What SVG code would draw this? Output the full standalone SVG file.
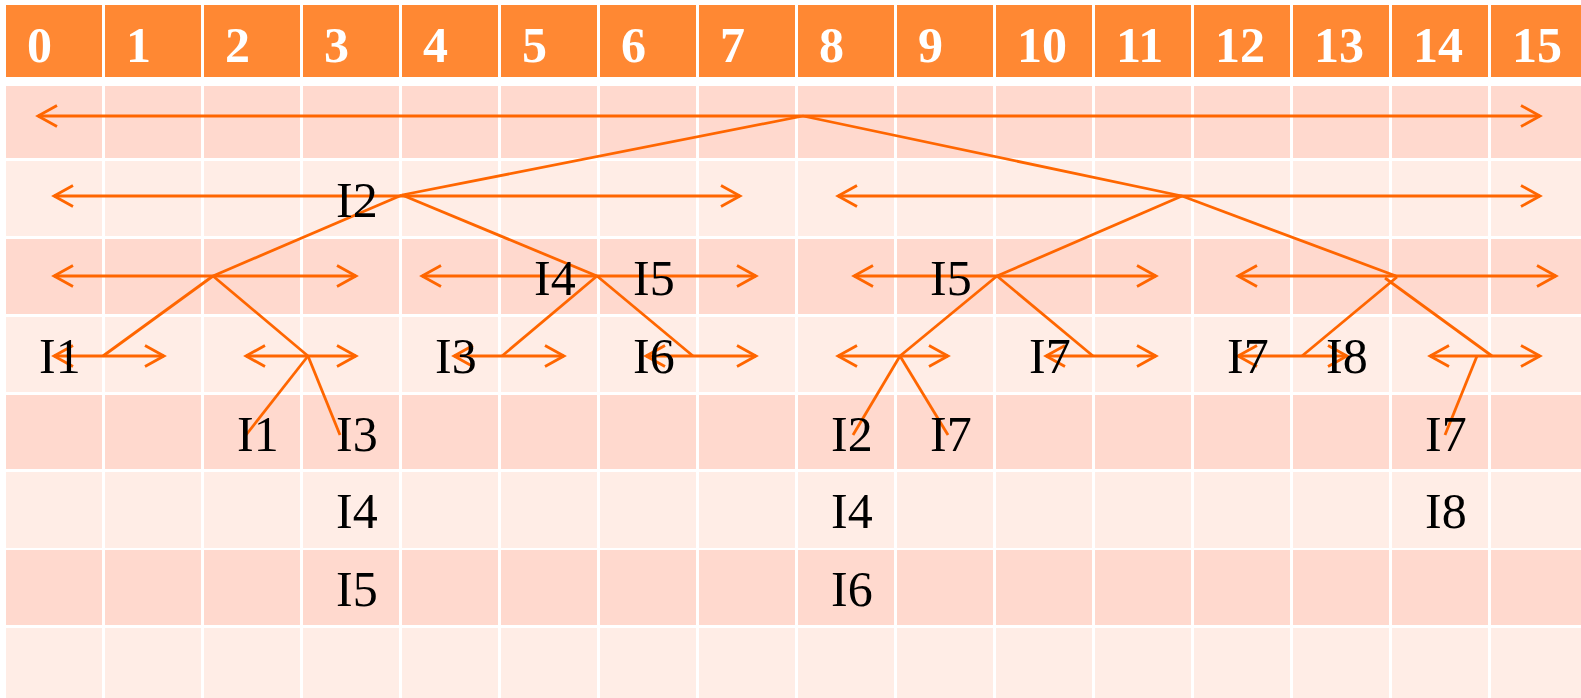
<svg xmlns="http://www.w3.org/2000/svg" width="1581" height="698" viewBox="0 0 1581 698">
<style>
.hd{fill:#FF8833}
.dk{fill:#FFD9CE}
.lt{fill:#FFEDE6}
.sep{stroke:#FFFFFF;stroke-width:3}
.hn{font-family:"Liberation Serif",serif;font-weight:bold;font-size:50px;fill:#FFFFFF}
.lb{font-family:"Liberation Serif",serif;font-size:50px;fill:#000000}
.ar{stroke:#FF6600;stroke-width:2.8;fill:none;marker-start:url(#ah);marker-end:url(#ah)}
.ln{stroke:#FF6600;stroke-width:2.8;fill:none}
</style>
<defs>
<marker id="ah" markerUnits="userSpaceOnUse" markerWidth="30" markerHeight="30" viewBox="-25 -15 30 30" refX="0" refY="0" orient="auto-start-reverse">
<path d="M-19,-10.5 L0,0 L-19,10.5" fill="none" stroke="#FF6600" stroke-width="2.8"/>
</marker>
</defs>
<rect width="1581" height="698" fill="#FFFFFF"/>
<g id="grid">
<rect class="hd" x="6" y="5" width="1575" height="72"/>
<rect class="dk" x="6" y="86" width="1575" height="72"/>
<rect class="lt" x="6" y="161" width="1575" height="75"/>
<rect class="dk" x="6" y="239" width="1575" height="75"/>
<rect class="lt" x="6" y="317" width="1575" height="75"/>
<rect class="dk" x="6" y="395" width="1575" height="74"/>
<rect class="lt" x="6" y="472" width="1575" height="76"/>
<rect class="dk" x="6" y="550" width="1575" height="75"/>
<rect class="lt" x="6" y="628" width="1575" height="70"/>
<g class="sep">
<line x1="103.5" y1="0" x2="103.5" y2="698"/>
<line x1="202.5" y1="0" x2="202.5" y2="698"/>
<line x1="301.5" y1="0" x2="301.5" y2="698"/>
<line x1="400.5" y1="0" x2="400.5" y2="698"/>
<line x1="499.5" y1="0" x2="499.5" y2="698"/>
<line x1="598.5" y1="0" x2="598.5" y2="698"/>
<line x1="697.5" y1="0" x2="697.5" y2="698"/>
<line x1="796.5" y1="0" x2="796.5" y2="698"/>
<line x1="895.5" y1="0" x2="895.5" y2="698"/>
<line x1="994.5" y1="0" x2="994.5" y2="698"/>
<line x1="1093.5" y1="0" x2="1093.5" y2="698"/>
<line x1="1192.5" y1="0" x2="1192.5" y2="698"/>
<line x1="1291.5" y1="0" x2="1291.5" y2="698"/>
<line x1="1390.5" y1="0" x2="1390.5" y2="698"/>
<line x1="1489.5" y1="0" x2="1489.5" y2="698"/>
</g>
</g>
<g id="header">
<text class="hn" x="27" y="62">0</text>
<text class="hn" x="126" y="62">1</text>
<text class="hn" x="225" y="62">2</text>
<text class="hn" x="324" y="62">3</text>
<text class="hn" x="423" y="62">4</text>
<text class="hn" x="522" y="62">5</text>
<text class="hn" x="621" y="62">6</text>
<text class="hn" x="720" y="62">7</text>
<text class="hn" x="819" y="62">8</text>
<text class="hn" x="918" y="62">9</text>
<text class="hn" x="1017" y="62">10</text>
<text class="hn" x="1116" y="62">11</text>
<text class="hn" x="1215" y="62">12</text>
<text class="hn" x="1314" y="62">13</text>
<text class="hn" x="1413" y="62">14</text>
<text class="hn" x="1512" y="62">15</text>
</g>
<g id="connectors">
<line class="ar" x1="38" y1="116" x2="1540" y2="116"/>
<line class="ln" x1="803" y1="116" x2="402" y2="195"/>
<line class="ln" x1="803" y1="116" x2="1182" y2="196"/>
<line class="ar" x1="54" y1="196" x2="740" y2="196"/>
<line class="ar" x1="838" y1="196" x2="1540" y2="196"/>
<line class="ln" x1="402" y1="195" x2="213" y2="276"/>
<line class="ln" x1="402" y1="195" x2="597" y2="276"/>
<line class="ln" x1="1182" y1="196" x2="997" y2="276"/>
<line class="ln" x1="1182" y1="196" x2="1396" y2="276"/>
<line class="ar" x1="54" y1="276" x2="356" y2="276"/>
<line class="ar" x1="422" y1="276" x2="756" y2="276"/>
<line class="ar" x1="854" y1="276" x2="1156" y2="276"/>
<line class="ar" x1="1238" y1="276" x2="1556" y2="276"/>
<line class="ln" x1="213" y1="276" x2="103" y2="356"/>
<line class="ln" x1="213" y1="276" x2="308" y2="356"/>
<line class="ln" x1="597" y1="276" x2="502" y2="356"/>
<line class="ln" x1="597" y1="276" x2="693" y2="356"/>
<line class="ln" x1="997" y1="276" x2="900" y2="356"/>
<line class="ln" x1="997" y1="276" x2="1093" y2="356"/>
<line class="ln" x1="1397" y1="277" x2="1302" y2="356"/>
<line class="ln" x1="1385" y1="278" x2="1492" y2="356"/>
<line class="ar" x1="54" y1="356" x2="164" y2="356"/>
<line class="ar" x1="246" y1="356" x2="356" y2="356"/>
<line class="ar" x1="454" y1="356" x2="564" y2="356"/>
<line class="ar" x1="646" y1="356" x2="756" y2="356"/>
<line class="ar" x1="838" y1="356" x2="948" y2="356"/>
<line class="ar" x1="1046" y1="356" x2="1156" y2="356"/>
<line class="ar" x1="1238" y1="356" x2="1347" y2="356"/>
<line class="ar" x1="1430" y1="356" x2="1540" y2="356"/>
<line class="ln" x1="308" y1="356" x2="246" y2="435"/>
<line class="ln" x1="308" y1="356" x2="340" y2="435"/>
<line class="ln" x1="900" y1="356" x2="853" y2="435"/>
<line class="ln" x1="900" y1="356" x2="948" y2="435"/>
<line class="ln" x1="1477" y1="356" x2="1445" y2="435"/>
</g>
<g id="labels">
<text class="lb" x="336" y="217">I2</text>
<text class="lb" x="534" y="295">I4</text>
<text class="lb" x="633" y="295">I5</text>
<text class="lb" x="930" y="295">I5</text>
<text class="lb" x="39" y="373">I1</text>
<text class="lb" x="435" y="373">I3</text>
<text class="lb" x="633" y="373">I6</text>
<text class="lb" x="1029" y="373">I7</text>
<text class="lb" x="1227" y="373">I7</text>
<text class="lb" x="1326" y="373">I8</text>
<text class="lb" x="237" y="451">I1</text>
<text class="lb" x="336" y="451">I3</text>
<text class="lb" x="831" y="451">I2</text>
<text class="lb" x="930" y="451">I7</text>
<text class="lb" x="1425" y="451">I7</text>
<text class="lb" x="336" y="528">I4</text>
<text class="lb" x="831" y="528">I4</text>
<text class="lb" x="1425" y="528">I8</text>
<text class="lb" x="336" y="606">I5</text>
<text class="lb" x="831" y="606">I6</text>
</g>
</svg>
